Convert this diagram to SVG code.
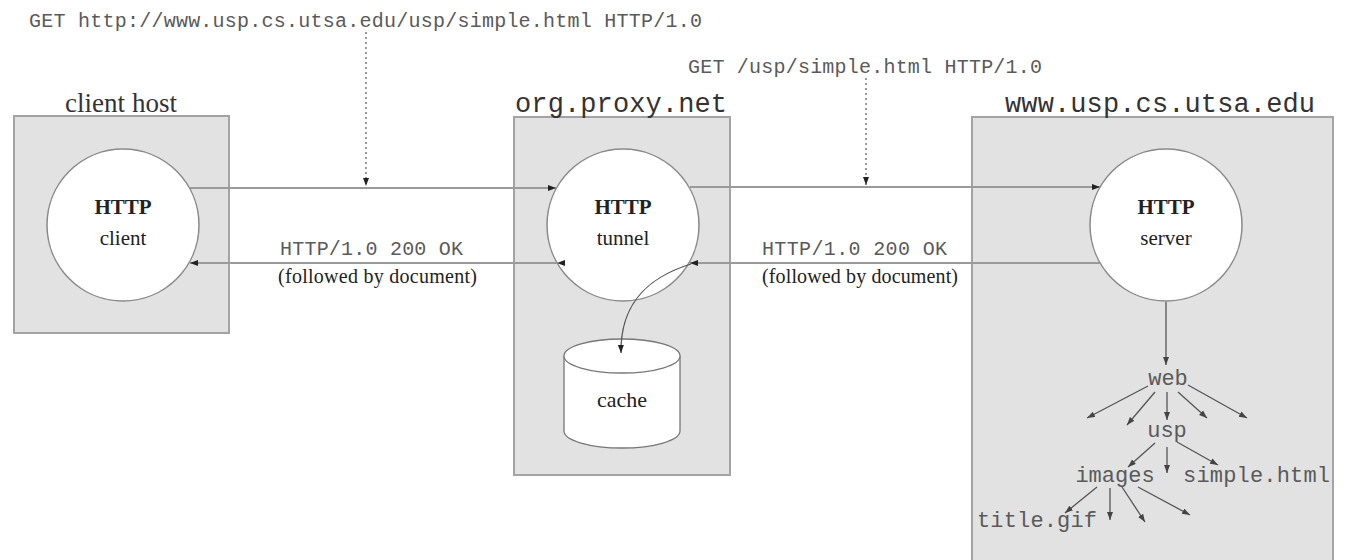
<svg xmlns="http://www.w3.org/2000/svg" width="1348" height="560" viewBox="0 0 1348 560">
<style>
.box{fill:#e2e2e2;stroke:#a3a3a3;stroke-width:2}
.circ{fill:#fff;stroke:#8a8a8a;stroke-width:1.5}
.mono{font-family:"Liberation Mono","Courier New",monospace;fill:#5a5a5a}
.serif{font-family:"Liberation Serif","Times New Roman",serif;fill:#222}
.big{font-size:27px;fill:#333}
.bold{font-weight:bold}
.flow{stroke:#9a9a9a;stroke-width:2;fill:none}
.dot{stroke:#999;stroke-width:2;stroke-dasharray:2,3;fill:none}
.thin{stroke:#555;stroke-width:1.3;fill:none}
</style>
<defs>
<marker id="ah" markerUnits="userSpaceOnUse" markerWidth="10" markerHeight="8" refX="8" refY="3" orient="auto">
<path d="M0,0 L8,3 L0,6 z" fill="#222"/>
</marker>
<marker id="at" markerUnits="userSpaceOnUse" markerWidth="10" markerHeight="8" refX="8" refY="3" orient="auto">
<path d="M0,0 L8,3 L0,6 z" fill="#444"/>
</marker>
</defs>

<g id="client-host">
<rect class="box" x="14" y="116" width="215" height="217"/>
<text class="serif big" x="121" y="112" text-anchor="middle" textLength="112">client host</text>
</g>
<g id="proxy-host">
<rect class="box" x="514" y="117" width="216" height="358"/>
<text class="mono big" x="621" y="112" text-anchor="middle" textLength="212" fill="#333">org.proxy.net</text>
</g>
<g id="server-host">
<rect class="box" x="972" y="117" width="361" height="460"/>
<text class="mono big" x="1160" y="112" text-anchor="middle" textLength="310">www.usp.cs.utsa.edu</text>
</g>

<g id="http-client">
<circle class="circ" cx="123" cy="225" r="76"/>
<text class="serif bold" x="123" y="214" font-size="21" text-anchor="middle">HTTP</text>
<text class="serif" x="123" y="245" font-size="21" text-anchor="middle">client</text>
</g>
<g id="http-tunnel">
<circle class="circ" cx="623" cy="225" r="76"/>
<text class="serif bold" x="623" y="214" font-size="21" text-anchor="middle">HTTP</text>
<text class="serif" x="623" y="245" font-size="21" text-anchor="middle">tunnel</text>
</g>
<g id="http-server">
<circle class="circ" cx="1166" cy="225" r="76"/>
<text class="serif bold" x="1166" y="214" font-size="21" text-anchor="middle">HTTP</text>
<text class="serif" x="1166" y="245" font-size="21" text-anchor="middle">server</text>
</g>
<g id="cache">
<path d="M564,356 L564,431 A58,17 0 0 0 680,431 L680,356" fill="#fff" stroke="#777" stroke-width="1.3"/>
<ellipse cx="622" cy="356" rx="58" ry="17" fill="#fff" stroke="#777" stroke-width="1.3"/>
<text class="serif" x="622" y="407" font-size="22" text-anchor="middle">cache</text>
</g>

<g id="connectors">
<path class="flow" d="M190,188 L556,188" marker-end="url(#ah)"/>
<path class="flow" d="M690,187 L1100,187" marker-end="url(#ah)"/>
<path class="flow" d="M1100,263 L690,263" marker-end="url(#ah)"/>
<path class="flow" d="M557,263 L190,263" marker-start="url(#ah)" marker-end="url(#ah)"/>
<path class="dot" d="M366,32 L366,186" marker-end="url(#ah)"/>
<path class="dot" d="M866,78 L866,185" marker-end="url(#ah)"/>
<path class="thin" d="M691,264 C652,276 620,300 621,353" marker-end="url(#ah)"/>
<path class="thin" d="M1166,302 L1166,365" marker-end="url(#at)"/>
<path class="thin" d="M1148,386 L1087,418" marker-end="url(#at)"/>
<path class="thin" d="M1155,392 L1127,425" marker-end="url(#at)"/>
<path class="thin" d="M1167,392 L1167,420" marker-end="url(#at)"/>
<path class="thin" d="M1178,392 L1207,418" marker-end="url(#at)"/>
<path class="thin" d="M1188,385 L1247,418" marker-end="url(#at)"/>
<path class="thin" d="M1155,443 L1128,467" marker-end="url(#at)"/>
<path class="thin" d="M1167,447 L1167,473" marker-end="url(#at)"/>
<path class="thin" d="M1177,442 L1218,465" marker-end="url(#at)"/>
<path class="thin" d="M1097,487 L1065,513" marker-end="url(#at)"/>
<path class="thin" d="M1110,488 L1110,520" marker-end="url(#at)"/>
<path class="thin" d="M1122,487 L1145,522" marker-end="url(#at)"/>
<path class="thin" d="M1138,487 L1190,515" marker-end="url(#at)"/>
</g>

<g id="labels">
<text class="mono" x="29" y="27" font-size="20" textLength="673">GET http://www.usp.cs.utsa.edu/usp/simple.html HTTP/1.0</text>
<text class="mono" x="688" y="73" font-size="20" textLength="354">GET /usp/simple.html HTTP/1.0</text>
<text class="mono" x="280" y="255" font-size="20" textLength="183">HTTP/1.0 200 OK</text>
<text class="serif" x="278" y="283" font-size="20" textLength="199">(followed by document)</text>
<text class="mono" x="762" y="255" font-size="20" textLength="185">HTTP/1.0 200 OK</text>
<text class="serif" x="762" y="283" font-size="20" textLength="196">(followed by document)</text>
</g>

<g id="tree">
<text class="mono" x="1168" y="385" font-size="22" text-anchor="middle">web</text>
<text class="mono" x="1167" y="437" font-size="22" text-anchor="middle">usp</text>
<text class="mono" x="1115" y="482" font-size="22" text-anchor="middle">images</text>
<text class="mono" x="1183" y="482" font-size="22" textLength="147">simple.html</text>
<text class="mono" x="977" y="527" font-size="22" textLength="120">title.gif</text>
</g>
</svg>
